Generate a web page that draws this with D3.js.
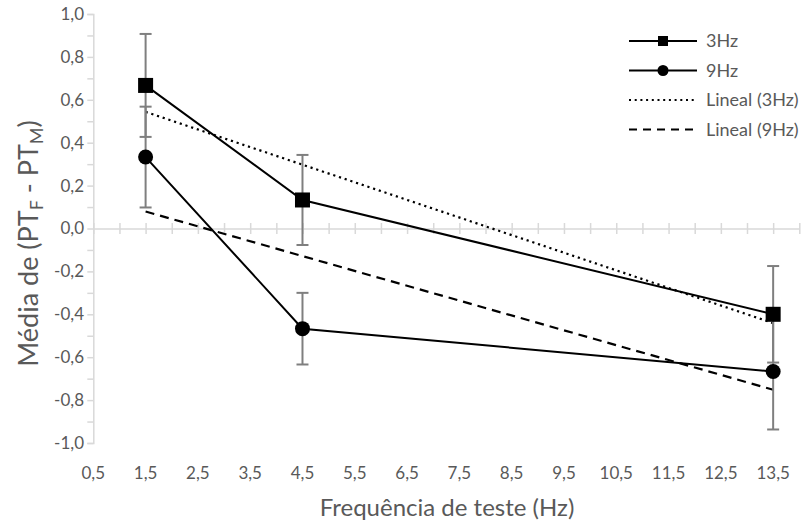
<!DOCTYPE html>
<html>
<head>
<meta charset="utf-8">
<script src="https://cdn.jsdelivr.net/npm/d3@7"></script>
<style>
  body { margin: 0; background: #fff; }
  svg { display: block; }
</style>
</head>
<body>
<div id="chart"></div>
<script>
// data
const freqs = [1.5, 4.5, 13.5];
const mean3Hz = [0.667, 0.133, -0.4];
const err3Hz = [0.24, 0.21, 0.225];
const mean9Hz = [0.333, -0.467, -0.667];
const err9Hz = [0.235, 0.167, 0.27];
const xTicks = [0.5, 1.5, 2.5, 3.5, 4.5, 5.5, 6.5, 7.5, 8.5, 9.5, 10.5, 11.5, 12.5, 13.5];
const yTicks = [-1, -0.8, -0.6, -0.4, -0.2, 0, 0.2, 0.4, 0.6, 0.8, 1];

const width = 805, height = 526;
const font = "Lato, 'Open Sans', sans-serif";

const svg = d3.select("#chart").append("svg")
    .attr("width", width)
    .attr("height", height);

const x = d3.scaleLinear().domain([0.5, 14]).range([93.3, 799.3]);
const y = d3.scaleLinear().domain([-1, 1]).range([443, 14]);

const comma = v => d3.format(".1f")(v).replace(".", ",").replace("−", "-");

// y axis
const yAxis = svg.append("g")
    .attr("transform", `translate(${x(0.5)},0)`)
    .call(d3.axisLeft(y).tickValues(d3.range(-10, 11).map(d => d / 10)).tickSize(6).tickFormat(""));
yAxis.select(".domain").attr("stroke", "#d9d9d9").attr("stroke-width", 1.5);
yAxis.selectAll(".tick line").attr("stroke", "#d9d9d9").attr("stroke-width", 1.5);

svg.append("g")
    .attr("font-family", font)
    .attr("font-size", 17)
    .attr("fill", "#595959")
    .attr("text-anchor", "end")
    .selectAll("text")
    .data(yTicks)
    .join("text")
    .attr("x", 84)
    .attr("y", d => y(d))
    .attr("dy", "0.35em")
    .text(comma);

// x axis through zero
const xAxis = svg.append("g")
    .attr("transform", `translate(0,${y(0)})`)
    .call(d3.axisBottom(x).tickValues(d3.range(1, 29).map(d => d / 2)).tickSizeInner(11).tickSizeOuter(0).tickFormat(""));
xAxis.select(".domain").attr("stroke", "#d9d9d9").attr("stroke-width", 1.5);
xAxis.selectAll(".tick line").attr("stroke", "#d9d9d9").attr("stroke-width", 1.5)
    .attr("y1", -5.5).attr("y2", 5.5);

svg.append("g")
    .attr("font-family", font)
    .attr("font-size", 17)
    .attr("fill", "#595959")
    .attr("text-anchor", "middle")
    .selectAll("text")
    .data(xTicks)
    .join("text")
    .attr("x", d => x(d))
    .attr("y", 479)
    .text(comma);

// axis titles
svg.append("text")
    .attr("x", 447)
    .attr("y", 516)
    .attr("text-anchor", "middle")
    .attr("font-family", font)
    .attr("font-size", 24)
    .attr("fill", "#595959")
    .text("Frequência de teste (Hz)");

const yt = svg.append("text")
    .attr("transform", `translate(38,${y(0) + 15}) rotate(-90)`)
    .attr("text-anchor", "middle")
    .attr("font-family", font)
    .attr("font-size", 27)
    .attr("fill", "#595959");
yt.append("tspan").text("Média de (PT");
yt.append("tspan").attr("font-size", 18).attr("dy", 5).text("F");
yt.append("tspan").attr("dy", -5).text(" - PT");
yt.append("tspan").attr("font-size", 18).attr("dy", 5).text("M");
yt.append("tspan").attr("dy", -5).text(")");

// linear trend lines
function fit(xs, ys) {
  const mx = d3.mean(xs), my = d3.mean(ys);
  const sxy = d3.sum(xs, (v, i) => (v - mx) * (ys[i] - my));
  const sxx = d3.sum(xs, v => (v - mx) * (v - mx));
  const b = sxy / sxx;
  return v => my + b * (v - mx);
}
const trends = [
  {f: fit(freqs, mean3Hz), dash: "2.2 3.8"},
  {f: fit(freqs, mean9Hz), dash: "9 6"}
];
const ends = [freqs[0], freqs[freqs.length - 1]];
svg.append("g").selectAll("line")
    .data(trends)
    .join("line")
    .attr("x1", x(ends[0])).attr("x2", x(ends[1]))
    .attr("y1", d => y(d.f(ends[0]))).attr("y2", d => y(d.f(ends[1])))
    .attr("stroke", "#000")
    .attr("stroke-width", 2.2)
    .attr("stroke-dasharray", d => d.dash);

// error bars
const series = [
  {name: "3Hz", vals: mean3Hz, errs: err3Hz, shape: "square"},
  {name: "9Hz", vals: mean9Hz, errs: err9Hz, shape: "circle"}
];
const eb = svg.append("g").attr("stroke", "#7f7f7f").attr("stroke-width", 2);
series.forEach(s => {
  freqs.forEach((f, i) => {
    const top = y(s.vals[i] + s.errs[i]), bot = y(s.vals[i] - s.errs[i]);
    eb.append("line").attr("x1", x(f)).attr("x2", x(f)).attr("y1", top).attr("y2", bot);
    eb.append("line").attr("x1", x(f) - 6).attr("x2", x(f) + 6).attr("y1", top).attr("y2", top);
    eb.append("line").attr("x1", x(f) - 6).attr("x2", x(f) + 6).attr("y1", bot).attr("y2", bot);
  });
});

// series lines and markers
const line = d3.line().x((d, i) => x(freqs[i])).y(d => y(d));
series.forEach(s => {
  svg.append("path")
    .attr("d", line(s.vals))
    .attr("fill", "none")
    .attr("stroke", "#000")
    .attr("stroke-width", 2);
  const g = svg.append("g").selectAll("g")
    .data(s.vals)
    .join("g")
    .attr("transform", (d, i) => `translate(${x(freqs[i])},${y(d)})`);
  if (s.shape === "square") {
    g.append("rect").attr("x", -7.5).attr("y", -7.5).attr("width", 15).attr("height", 15).attr("fill", "#000");
  } else {
    g.append("circle").attr("r", 7.5).attr("fill", "#000");
  }
});

// legend
const legendItems = [
  {label: "3Hz", marker: "square", dash: null},
  {label: "9Hz", marker: "circle", dash: null},
  {label: "Lineal (3Hz)", marker: null, dash: "2 3.7"},
  {label: "Lineal (9Hz)", marker: null, dash: "8 6"}
];
const legend = svg.append("g").selectAll("g")
    .data(legendItems)
    .join("g")
    .attr("transform", (d, i) => `translate(629,${41 + i * 29.5})`);
legend.append("line")
    .attr("x1", 0).attr("x2", 68)
    .attr("stroke", "#000")
    .attr("stroke-width", 2)
    .attr("stroke-dasharray", d => d.dash);
legend.filter(d => d.marker === "square").append("rect")
    .attr("x", 29).attr("y", -5).attr("width", 10).attr("height", 10).attr("fill", "#000");
legend.filter(d => d.marker === "circle").append("circle")
    .attr("cx", 34).attr("r", 5.5).attr("fill", "#000");
legend.append("text")
    .attr("x", 77)
    .attr("dy", "0.35em")
    .attr("font-family", font)
    .attr("font-size", 18)
    .attr("fill", "#595959")
    .text(d => d.label);
</script>
</body>
</html>
